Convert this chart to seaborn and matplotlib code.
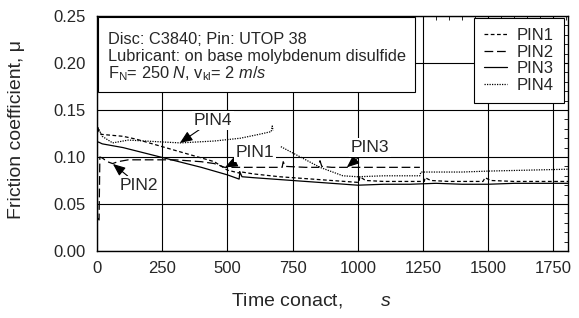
import numpy as np
import pandas as pd
import matplotlib
matplotlib.use("Agg")
import matplotlib.pyplot as plt
import seaborn as sns
from matplotlib.patches import Rectangle

# ---- data ----
pin1_t = [0, 3, 10, 20, 60, 100, 150, 200, 250, 300, 350, 400, 450, 500, 545, 548, 556, 600, 700,
          800, 900, 1000, 1004, 1008, 1030, 1100, 1200, 1255, 1258, 1280, 1350, 1480, 1488, 1510, 1600, 1700, 1806]
pin1_mu = [0.118, 0.131, 0.125, 0.124, 0.123, 0.122, 0.119, 0.115, 0.111, 0.107, 0.103, 0.099, 0.095, 0.086, 0.083,
           0.085, 0.084, 0.082, 0.079, 0.077, 0.075, 0.073, 0.073, 0.079, 0.075, 0.074, 0.074, 0.074, 0.078, 0.075,
           0.074, 0.074, 0.078, 0.075, 0.074, 0.074, 0.074]

pin2_t = [0, 2, 8, 11, 20, 40, 60, 80, 120, 200, 300, 400, 450, 490, 600, 700, 710, 714, 722, 800,
          850, 855, 862, 900, 1000, 1100, 1200, 1238]
pin2_mu = [0.128, 0.035, 0.033, 0.100, 0.099, 0.095, 0.093, 0.095, 0.097, 0.097, 0.097, 0.095, 0.093, 0.089,
           0.089, 0.089, 0.089, 0.095, 0.090, 0.089, 0.089, 0.096, 0.090, 0.089, 0.089, 0.089, 0.089, 0.089]

pin3_t = [0, 5, 20, 100, 200, 300, 400, 500, 545, 548, 556, 600, 700, 800, 900, 1000, 1100, 1200, 1300,
          1400, 1500, 1600, 1700, 1806]
pin3_mu = [0.115, 0.116, 0.114, 0.110, 0.103, 0.096, 0.089, 0.081, 0.0765, 0.084, 0.079, 0.078, 0.076, 0.074,
           0.072, 0.070, 0.071, 0.071, 0.072, 0.071, 0.071, 0.072, 0.072, 0.072]

# PIN4 has a break in the record between ~672 s and ~705 s
pin4_t = [0, 5, 20, 60, 120, 250, 320, 450, 550, 620, 668, 672, 675,
          705, 780, 855, 943, 1000, 1100, 1238, 1242, 1400, 1500, 1650, 1806]
pin4_mu = [0.125, 0.131, 0.122, 0.115, 0.118, 0.116, 0.115, 0.117, 0.120, 0.124, 0.127, 0.133, 0.128,
           0.111, 0.100, 0.089, 0.080, 0.079, 0.080, 0.080, 0.084, 0.084, 0.085, 0.086, 0.087]
pin4_seg = [0] * 13 + [1] * 12

pins = ["PIN1", "PIN2", "PIN3", "PIN4"]
styles = {"PIN1": (0, (3, 2)), "PIN2": (0, (7, 3)), "PIN3": "-", "PIN4": (0, (1, 1))}

info_lines = ["Disc: C3840; Pin: UTOP 38",
              "Lubricant: on base molybdenum disulfide",
              "F$_\\mathrm{N}$= 250 $N$, v$_\\mathrm{kl}$= 2 $m/s$"]

df = pd.concat([
    pd.DataFrame({"t": pin1_t, "mu": pin1_mu, "pin": "PIN1", "seg": 0}),
    pd.DataFrame({"t": pin2_t, "mu": pin2_mu, "pin": "PIN2", "seg": 0}),
    pd.DataFrame({"t": pin3_t, "mu": pin3_mu, "pin": "PIN3", "seg": 0}),
    pd.DataFrame({"t": pin4_t, "mu": pin4_mu, "pin": "PIN4", "seg": pin4_seg}),
])

sns.set_theme(style="white")
plt.rcParams["font.family"] = ["Liberation Sans", "DejaVu Sans"]
plt.rcParams["mathtext.fontset"] = "custom"
plt.rcParams["mathtext.rm"] = "Liberation Sans"
plt.rcParams["mathtext.it"] = "Liberation Sans:italic"

fig = plt.figure(figsize=(5.79, 3.18), dpi=100)
ax = fig.add_axes([0.1675, 0.2107, 0.8135, 0.739])

for p in pins:
    sub = df[df["pin"] == p]
    sns.lineplot(data=sub, x="t", y="mu", units="seg", estimator=None, ax=ax, color="black",
                 lw=0.9, linestyle=styles[p], sort=False)

ax.set_xlim(0, 1806)
ax.set_ylim(0, 0.25)
ax.set_xticks(np.arange(0, 1751, 250))
ax.set_yticks(np.arange(0, 0.251, 0.05))
ax.set_xticks(np.arange(0, 1806, 50), minor=True)
ax.set_yticks(np.arange(0, 0.251, 0.01), minor=True)
ax.yaxis.set_major_formatter(matplotlib.ticker.FormatStrFormatter("%.2f"))
ax.tick_params(which="both", direction="in", top=True, right=True, color="black")
ax.tick_params(which="major", length=0, labelsize=12)
ax.tick_params(axis="y", which="major", pad=8)
ax.tick_params(axis="x", which="major", pad=7)
ax.tick_params(which="minor", length=3, width=0.6)
ax.grid(True, which="major", color="black", lw=0.8)
for s in ax.spines.values():
    s.set_color("black")
    s.set_linewidth(1)

ax.set_ylabel("Friction coefficient, μ", fontsize=14)
ax.set_xlabel("Time conact,       $s$", fontsize=14)
ax.yaxis.set_label_coords(-0.153, 0.515)
ax.xaxis.set_label_coords(0.456, -0.17)

handles = [plt.Line2D([], [], color="black", lw=0.9, linestyle=styles[p]) for p in pins]
leg = ax.legend(handles, pins, loc="upper right", bbox_to_anchor=(0.992, 0.992), fontsize=12,
                frameon=True, fancybox=False, edgecolor="black", borderaxespad=0.0,
                handlelength=1.4, handletextpad=0.6, labelspacing=0.1, borderpad=0.6)
leg.get_frame().set_linewidth(0.8)
leg.get_frame().set_alpha(1)

# info box in the upper left corner
ax.add_patch(Rectangle((0.002, 0.677), 0.673, 0.319, transform=ax.transAxes, fc="white",
                       ec="black", lw=0.8, zorder=5))
for line, yb in zip(info_lines, [0.882, 0.808, 0.737]):
    ax.text(0.023, yb, line, transform=ax.transAxes, fontsize=11.8, va="baseline", ha="left", zorder=6)

arrow = dict(arrowstyle="-|>,head_length=0.6,head_width=0.25", color="black", lw=0.8, shrinkA=0, shrinkB=0)
notes = [("PIN4", (318, 0.115), (445, 0.139)),
         ("PIN1", (491, 0.089), (606, 0.105)),
         ("PIN3", (958, 0.089), (1047, 0.110)),
         ("PIN2", (61, 0.0926), (161, 0.070))]
for name, tip, pos in notes:
    ax.annotate(name, xy=tip, xytext=pos, fontsize=12.5, ha="center", va="center", arrowprops=arrow,
                bbox=dict(boxstyle="square,pad=0.1", fc="white", ec="none"), zorder=4)

fig.savefig("out.png", dpi=100)
